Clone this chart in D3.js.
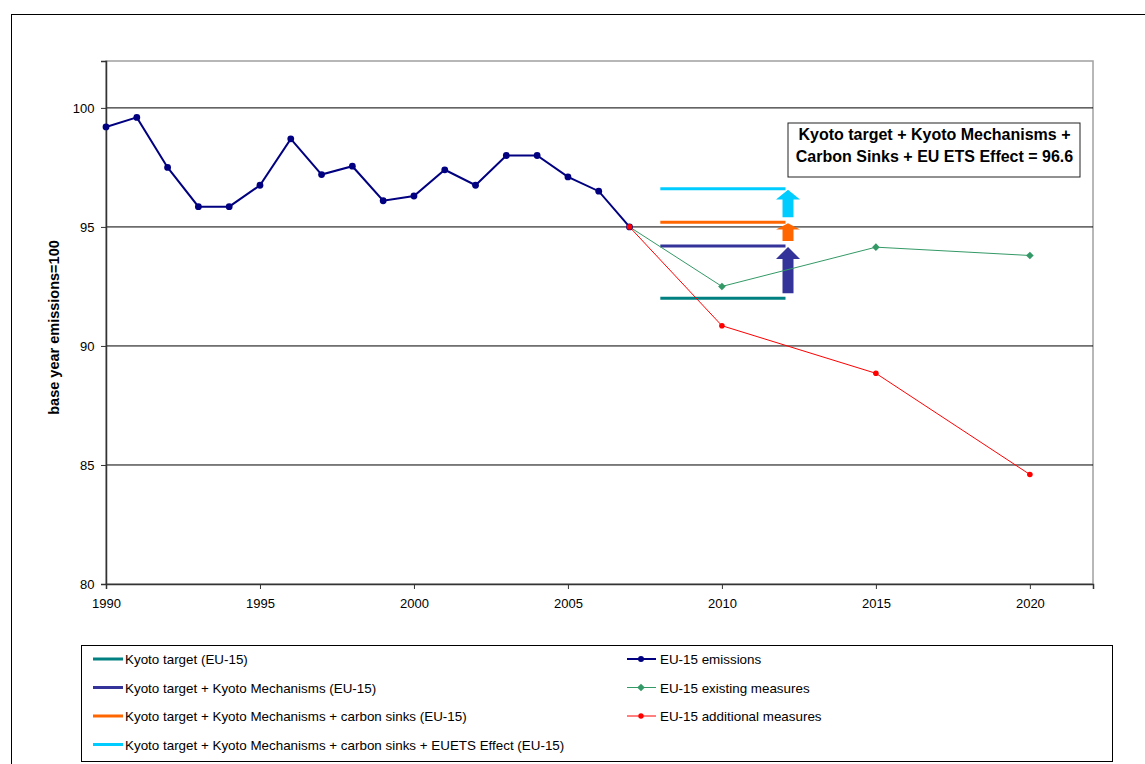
<!DOCTYPE html>
<html>
<head>
<meta charset="utf-8">
<script src="https://cdn.jsdelivr.net/npm/d3@7"></script>
<style>
  body { margin: 0; background: #fff; }
  svg { display: block; font-family: "Liberation Sans", Arial, sans-serif; }
</style>
</head>
<body>
<svg id="chart" width="1145" height="764"></svg>
<script>
// data
const years = [1990, 1991, 1992, 1993, 1994, 1995, 1996, 1997, 1998, 1999, 2000, 2001, 2002, 2003, 2004, 2005, 2006, 2007]
const emissions = [99.2, 99.6, 97.5, 95.85, 95.85, 96.75, 98.7, 97.2, 97.55, 96.1, 96.3, 97.4, 96.75, 98.0, 98.0, 97.1, 96.5, 95.0]
const projYears = [2007, 2010, 2015, 2020]
const existing = [95.0, 92.5, 94.15, 93.8]
const additional = [95.0, 90.85, 88.85, 84.6]
const targetYears = [2008, 2012]
const targetNames = ["Kyoto target (EU-15)", "Kyoto target + Kyoto Mechanisms (EU-15)",
    "Kyoto target + Kyoto Mechanisms + carbon sinks (EU-15)",
    "Kyoto target + Kyoto Mechanisms + carbon sinks + EUETS Effect (EU-15)"]
const targetValues = [92.0, 94.2, 95.2, 96.6]
const targetColors = ["#008080", "#333399", "#FF6600", "#00CCFF"]
const yTicks = [80, 85, 90, 95, 100]
const xTicks = [1990, 1995, 2000, 2005, 2010, 2015, 2020]

let svg = d3.select("#chart")
let x = d3.scaleLinear().domain([1990, 2022.05]).range([106, 1093])
let y = d3.scaleLinear().domain([80, 101.97]).range([584, 61])

//外框
svg.append("rect")
    .attr("x", 11.5).attr("y", 14.5).attr("width", 1150).attr("height", 760)
    .attr("fill", "none").attr("stroke", "#000").attr("stroke-width", 1)

//绘图区边框
svg.append("rect")
    .attr("x", 106).attr("y", 61).attr("width", 987).attr("height", 523)
    .attr("fill", "none").attr("stroke", "#a0a0a0").attr("stroke-width", 1.5)

//网格线
svg.append("g")
    .selectAll("line")
    .data(yTicks.filter(d => d > 80))
    .enter()
    .append("line")
    .attr("x1", 106).attr("x2", 1093)
    .attr("y1", d => y(d)).attr("y2", d => y(d))
    .attr("stroke", "#000").attr("stroke-width", 1)

//坐标轴
let yAxis = svg.append("g")
    .attr("transform", "translate(106,0)")
    .call(d3.axisLeft(y).tickValues(yTicks).tickSize(5).tickPadding(6.5))
let xAxis = svg.append("g")
    .attr("transform", "translate(0,584)")
    .call(d3.axisBottom(x).tickValues(xTicks).tickFormat(d3.format("d")).tickSize(5).tickPadding(10))
;[yAxis, xAxis].forEach(a => {
    a.select(".domain").attr("stroke", "#333").attr("stroke-width", 1.5)
    a.selectAll(".tick line").attr("stroke", "#333")
    a.selectAll("text").attr("font-size", 13).attr("fill", "#000")
        .attr("font-family", "Liberation Sans, Arial, sans-serif")
})

svg.append("text")
    .attr("transform", `translate(59,${(238 + 417) / 2}) rotate(-90)`)
    .attr("text-anchor", "middle")
    .attr("font-size", 14.5).attr("font-weight", "bold")
    .text("base year emissions=100")

//目标线
svg.append("g")
    .selectAll("line")
    .data(targetValues)
    .enter()
    .append("line")
    .attr("x1", x(targetYears[0])).attr("x2", x(targetYears[1]) + 2)
    .attr("y1", d => y(d)).attr("y2", d => y(d))
    .attr("stroke", (d, i) => targetColors[i]).attr("stroke-width", 3)

//箭头
let arrowX = x(targetYears[1]) + 4.5
function arrowPath(y0, y1, head) {
    let sw = 5.5, hw = 12
    return `M${arrowX - sw},${y0} L${arrowX - sw},${y1 + head} L${arrowX - hw},${y1 + head} L${arrowX},${y1} L${arrowX + hw},${y1 + head} L${arrowX + sw},${y1 + head} L${arrowX + sw},${y0} Z`
}
let arrowG = svg.append("g")
for (let i = 1; i < targetValues.length; i++) {
    let y0 = y(targetValues[i - 1]) - 5
    let y1 = y(targetValues[i]) + 1
    arrowG.append("path")
        .attr("d", arrowPath(y0, y1, Math.min(12, (y0 - y1) * 0.35)))
        .attr("fill", targetColors[i])
}

//线条
let line = d3.line().x(d => x(d[0])).y(d => y(d[1]))
let emiData = years.map((d, i) => [d, emissions[i]])
let exData = projYears.map((d, i) => [d, existing[i]])
let addData = projYears.map((d, i) => [d, additional[i]])

svg.append("path").datum(exData).attr("d", line)
    .attr("fill", "none").attr("stroke", "#339966").attr("stroke-width", 1)
svg.append("path").datum(addData).attr("d", line)
    .attr("fill", "none").attr("stroke", "#FF0000").attr("stroke-width", 1)
svg.append("path").datum(emiData).attr("d", line)
    .attr("fill", "none").attr("stroke", "#000080").attr("stroke-width", 2)

let diamond = "M0,-3.8L3.8,0L0,3.8L-3.8,0Z"
svg.append("g").selectAll("path")
    .data(exData.slice(1))
    .enter().append("path")
    .attr("d", diamond)
    .attr("transform", d => `translate(${x(d[0])},${y(d[1])})`)
    .attr("fill", "#339966")
svg.append("g").selectAll("circle")
    .data(emiData)
    .enter().append("circle")
    .attr("cx", d => x(d[0])).attr("cy", d => y(d[1])).attr("r", 3.4)
    .attr("fill", "#000080")
svg.append("g").selectAll("circle")
    .data(addData)
    .enter().append("circle")
    .attr("cx", d => x(d[0])).attr("cy", d => y(d[1])).attr("r", 2.8)
    .attr("fill", "#FF0000")

//注释框
svg.append("rect")
    .attr("x", 788).attr("y", 123).attr("width", 292).attr("height", 54)
    .attr("fill", "#fff").attr("stroke", "#222").attr("stroke-width", 1)
let noteLines = ["Kyoto target + Kyoto Mechanisms +", `Carbon Sinks + EU ETS Effect = ${targetValues[3]}`]
noteLines.forEach((t, i) => {
    svg.append("text")
        .attr("x", 934.5).attr("y", 140 + i * 22)
        .attr("text-anchor", "middle")
        .attr("font-size", 16).attr("font-weight", "bold")
        .text(t)
})

//图例
svg.append("rect")
    .attr("x", 81.5).attr("y", 645.5).attr("width", 1031).attr("height", 116)
    .attr("fill", "#fff").attr("stroke", "#000").attr("stroke-width", 1)
let legRow = 28.5
targetNames.forEach((name, i) => {
    let ly = 659 + i * legRow
    svg.append("line")
        .attr("x1", 93).attr("x2", 123).attr("y1", ly).attr("y2", ly)
        .attr("stroke", targetColors[i]).attr("stroke-width", 3)
    svg.append("text")
        .attr("x", 125).attr("y", ly + 5)
        .attr("font-size", 13.4).text(name)
})
let rightLegend = [
    { name: "EU-15 emissions", color: "#000080", w: 2, shape: "circle" },
    { name: "EU-15 existing measures", color: "#339966", w: 1, shape: "diamond" },
    { name: "EU-15 additional measures", color: "#FF0000", w: 1, shape: "circle" }
]
rightLegend.forEach((d, i) => {
    let ly = 659 + i * legRow
    svg.append("line")
        .attr("x1", 627).attr("x2", 656).attr("y1", ly).attr("y2", ly)
        .attr("stroke", d.color).attr("stroke-width", d.w)
    if (d.shape == "circle") {
        svg.append("circle").attr("cx", 641).attr("cy", ly).attr("r", i == 0 ? 3 : 2.7).attr("fill", d.color)
    } else {
        svg.append("path").attr("d", diamond).attr("transform", `translate(641,${ly})`).attr("fill", d.color)
    }
    svg.append("text")
        .attr("x", 660).attr("y", ly + 5)
        .attr("font-size", 13.4).text(d.name)
})
</script>
</body>
</html>
